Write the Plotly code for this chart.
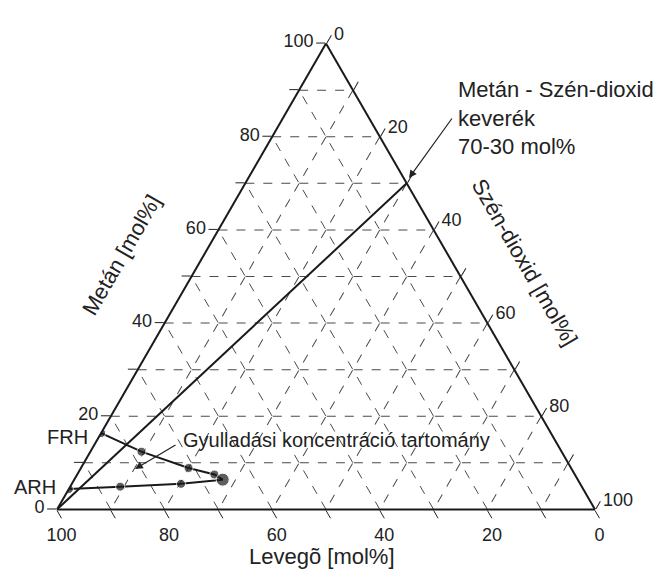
import plotly.graph_objects as go

# ---- data ----
tick_values = [0, 10, 20, 30, 40, 50, 60, 70, 80, 90, 100]
tick_labels = ["0", "", "20", "", "40", "", "60", "", "80", "", "100"]

# mixing line: air (100%) -> methane/CO2 70-30 mixture
mix_methane = [0, 70]
mix_air = [100, 0]
mix_co2 = [0, 30]

# flammability boundary FRH -> nose -> ARH
flam_methane = [16.4, 12.4, 8.9, 7.5, 6.4, 5.5, 4.9, 4.4]
flam_co2 = [0.0, 9.5, 20.0, 25.5, 27.6, 20.3, 9.3, 0.0]
flam_air = [83.6, 78.1, 71.1, 67.0, 66.0, 74.2, 85.8, 95.6]

W, H = 657, 570
FONT = "Arial, Liberation Sans, sans-serif"
INK = "#1a1a1a"

fig = go.Figure()
fig.add_trace(go.Scatterternary(
    a=mix_methane, b=mix_air, c=mix_co2, mode="lines",
    line=dict(color=INK, width=2), showlegend=False, hoverinfo="skip"))
fig.add_trace(go.Scatterternary(
    a=flam_methane, b=flam_air, c=flam_co2, mode="lines+markers",
    line=dict(color=INK, width=2),
    marker=dict(color=INK, size=[9, 9, 9, 9, 13, 9, 9, 9]),
    showlegend=False, hoverinfo="skip"))

def axis():
    return dict(
        title=dict(text=""), min=0,
        tickmode="array", tickvals=tick_values, ticktext=tick_labels,
        ticks="outside", ticklen=9, tickwidth=1.3, tickcolor="#222",
        tickfont=dict(family=FONT, size=18, color="#222"),
        linecolor=INK, linewidth=2, showline=True,
        showgrid=True, gridcolor="#4a4a4a", gridwidth=1, griddash="dash",
    )

x0, x1 = 57 / W, 595 / W
y0, y1 = 1 - 510 / H, 1 - 43 / H
fig.update_layout(
    width=W, height=H,
    margin=dict(l=0, r=0, t=0, b=0, autoexpand=False),
    paper_bgcolor="white",
    font=dict(family=FONT, color="#222"),
    ternary=dict(
        sum=100,
        domain=dict(x=[x0, x1], y=[y0, y1]),
        bgcolor="white",
        aaxis=axis(), baxis=axis(), caxis=axis(),
    ),
)

def px(x, y):
    return x / W, 1 - y / H

def label(x, y, text, size, angle=0, xanchor="center"):
    tx, ty = px(x, y)
    return dict(x=tx, y=ty, xref="paper", yref="paper", text=text, textangle=angle,
                showarrow=False, xanchor=xanchor, yanchor="middle", align="left",
                font=dict(size=size, family=FONT, color="#222"))

def arrow(tip_x, tip_y, tail_x, tail_y):
    tx, ty = px(tip_x, tip_y)
    return dict(x=tx, y=ty, xref="paper", yref="paper", text="", showarrow=True,
                arrowhead=2, arrowsize=1.3, arrowwidth=1.2, arrowcolor="#222",
                ax=tail_x - tip_x, ay=tail_y - tip_y)

anns = [
    label(121, 255, "Metán [mol%]", 22, angle=-60),
    label(525, 262, "Szén-dioxid [mol%]", 22, angle=60),
    label(322, 556, "Levegõ [mol%]", 22),
    label(90, 437, "FRH", 20, xanchor="right"),
    label(58, 487, "ARH", 20, xanchor="right"),
    label(181, 440, "Gyulladási koncentráció tartomány", 20, xanchor="left"),
    arrow(135, 469, 177, 444),
    label(456, 118, "Metán - Szén-dioxid<br>keverék<br>70-30 mol%", 22, xanchor="left"),
    arrow(409, 178, 453, 117),
]
fig.update_layout(annotations=anns)

fig.write_html("out.html", config={"displayModeBar": False},
               post_script="document.body.style.margin='0';")
